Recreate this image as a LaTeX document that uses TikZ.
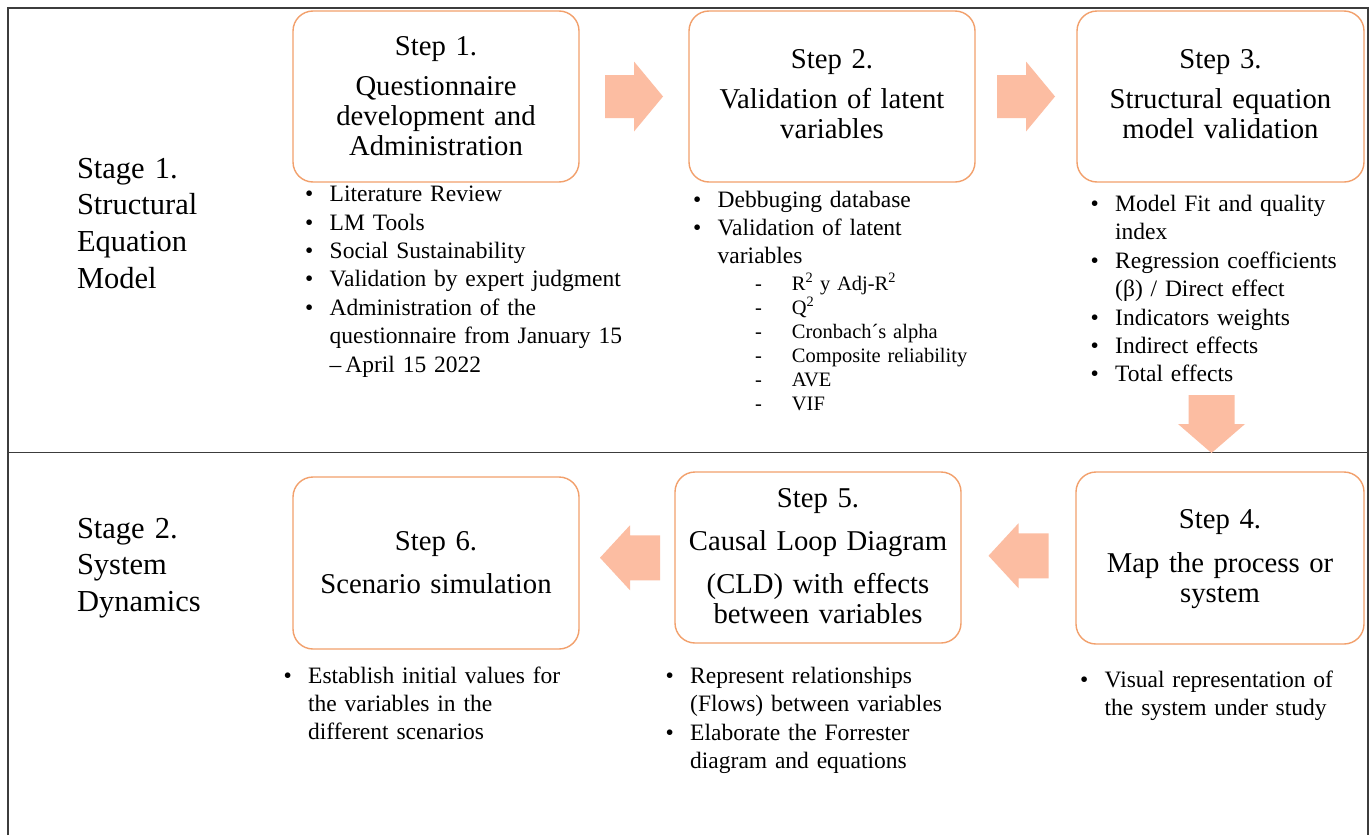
\documentclass[tikz,border=0pt]{standalone}
\usepackage{fontspec}
\setmainfont{Liberation Serif}
\definecolor{boxline}{HTML}{F2A06C}
\definecolor{arrowfill}{HTML}{FCBDA2}
\definecolor{frameline}{HTML}{3C3C3C}
% bullet and dash items with a hanging indent
\newlength\bulletgap
\setlength\bulletgap{24.5pt}
\newcommand{\bitem}[1]{\hangindent=\bulletgap\hangafter=1\makebox[\bulletgap][l]{\textbullet}#1\par}
\newlength\dashgap
\setlength\dashgap{36.7pt}
\newcommand{\ditem}[1]{\hangindent=\dashgap\hangafter=1\makebox[\dashgap][l]{-}#1\par}
\begin{document}
\begin{tikzpicture}[x=1pt,y=-1pt,
  stepbox/.style={draw=boxline,line width=1.4pt,rounded corners=20pt,inner sep=0pt},
  steptitle/.style={anchor=base,inner sep=0pt,text width=284pt,align=center,
    font=\fontsize{28.7}{30}\selectfont},
  stagelabel/.style={anchor=base west,inner sep=0pt,text width=220pt,align=left,
    font=\fontsize{30.5}{36.7}\selectfont},
  bullets/.style={anchor=base west,inner sep=0pt,text width=360pt,align=left,
    font=\fontsize{23.5}{28.4}\selectfont},
  dashes/.style={anchor=base west,inner sep=0pt,text width=260pt,align=left,
    font=\fontsize{20.5}{24.1}\selectfont},
  frame/.style={draw=frameline,line width=1.5pt},
  rarrow/.pic={\fill[arrowfill]
    (-29,-21.5) -- (0,-21.5) -- (0,-35) -- (29,0) -- (0,35) -- (0,21.5) -- (-29,21.5) -- cycle;},
  larrow/.pic={\fill[arrowfill]
    (30,-22.5) -- (0,-22.5) -- (0,-32.5) -- (-30,0) -- (0,32.5) -- (0,22.5) -- (30,22.5) -- cycle;},
  darrow/.pic={\fill[arrowfill]
    (-23,-29) -- (23,-29) -- (23,0) -- (33.5,0) -- (0,29) -- (-33.5,0) -- (-23,0) -- cycle;}
]
\useasboundingbox (0,0) rectangle (1372,835);
\fill[white] (0,0) rectangle (1372,835);

% outer frame and the line between the two stages
\draw[frame] (8,835) -- (8,8) -- (1368,8) -- (1368,835);
\draw[frame] (8,452.5) -- (1368,452.5);

% stage labels
\node[stagelabel] (stage1) at (76.8,178) {Stage 1.\\Structural\\Equation\\Model};
\node[stagelabel] (stage2) at (76.8,538) {Stage 2.\\System\\Dynamics};

% step boxes
\node[stepbox,minimum width=286pt,minimum height=171pt] (s1) at (436,96.5) {};
\node[stepbox,minimum width=286pt,minimum height=171pt] (s2) at (832,96.5) {};
\node[stepbox,minimum width=287pt,minimum height=171pt] (s3) at (1220.5,96.5) {};
\node[stepbox,minimum width=288pt,minimum height=172pt] (s4) at (1220,558) {};
\node[stepbox,minimum width=286pt,minimum height=171pt] (s5) at (818,557.5) {};
\node[stepbox,minimum width=286pt,minimum height=172pt] (s6) at (436,563) {};

% step titles
\node[steptitle] (t1) at (436,55) {Step 1.\\[10pt]Questionnaire\\development and\\Administration};
\node[steptitle] (t2) at (832,68) {Step 2.\\[10pt]Validation of latent\\variables};
\node[steptitle] (t3) at (1220.5,68) {Step 3.\\[10pt]Structural equation\\model validation};
\node[steptitle] (t4) at (1220,528) {Step 4.\\[14pt]Map the process or\\system};
\node[steptitle] (t5) at (818,507) {Step 5.\\[13pt]Causal Loop Diagram\\[13pt](CLD) with effects\\between variables};
\node[steptitle] (t6) at (436,550) {Step 6.\\[13pt]Scenario simulation};

% block arrows between the steps
\path (s1.east) -- (s2.west) coordinate[midway] (m12);
\path (s2.east) -- (s3.west) coordinate[midway] (m23);
\path (s4.west) -- (s5.east) coordinate[midway] (m45);
\path (s5.west) -- (s6.east) coordinate[midway] (m56);
\coordinate (m34) at (1211.5,424);
\pic at (m12) {rarrow};
\pic at (m23) {rarrow};
\pic at (m34) {darrow};
\pic at ([xshift=0pt,yshift=2pt]m45) {larrow};
\pic at ([xshift=3pt,yshift=2.5pt]m56) {larrow};

% lists under the boxes
\node[bullets] (l1) at (305,201.7) {%
\bitem{Literature Review}
\bitem{LM Tools}
\bitem{Social Sustainability}
\bitem{Validation by expert judgment}
\bitem{Administration of the\newline questionnaire from January 15\newline –\,April 15 2022}};

\node[bullets] (l2) at (693,207) {%
\bitem{Debbuging database}
\bitem{Validation of latent\newline variables}};
\node[dashes] (l2b) at (755,290) {%
\ditem{R\textsuperscript{2} y Adj-R\textsuperscript{2}}
\ditem{Q\textsuperscript{2}}
\ditem{Cronbach´s alpha}
\ditem{Composite reliability}
\ditem{AVE}
\ditem{VIF}};

\node[bullets] (l3) at (1090.5,211.5) {%
\bitem{Model Fit and quality\newline index}
\bitem{Regression coefficients\newline (β) / Direct effect}
\bitem{Indicators weights}
\bitem{Indirect effects}
\bitem{Total effects}};

\node[bullets] (l4) at (1080,687) {%
\bitem{Visual representation of\newline the system under study}};

\node[bullets] (l5) at (665.5,683.3) {%
\bitem{Represent relationships\newline (Flows) between variables}
\bitem{Elaborate the Forrester\newline diagram and equations}};

\node[bullets] (l6) at (283.5,683) {%
\bitem{Establish initial values for\newline the variables in the\newline different scenarios}};
\end{tikzpicture}
\end{document}
